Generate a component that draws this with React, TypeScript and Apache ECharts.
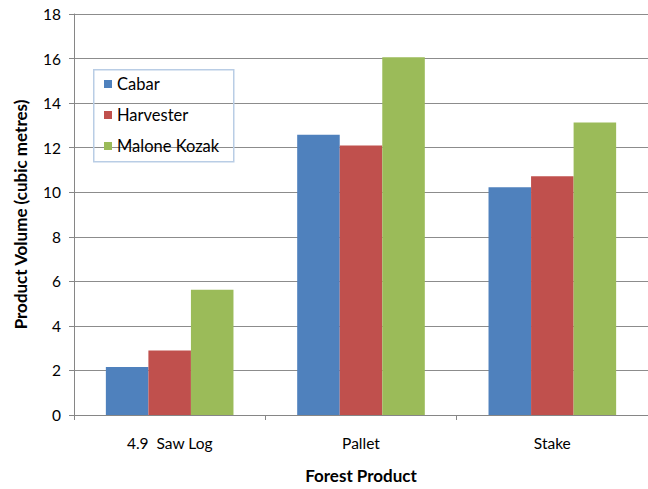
import React, { useEffect, useRef } from "react";
import * as echarts from "echarts";

const categories = ["4.9  Saw Log", "Pallet", "Stake"];
const seriesNames = ["Cabar", "Harvester", "Malone Kozak"];
const cabar = [2.15, 12.58, 10.22];
const harvester = [2.9, 12.1, 10.72];
const maloneKozak = [5.62, 16.06, 13.13];
const colors = ["#4F81BD", "#C0504D", "#9BBB59"];
const yTicks = { min: 0, max: 18, interval: 2 };

const FONT = "Lato, 'Open Sans', sans-serif";

export default function App() {
  const ref = useRef<HTMLDivElement>(null);
  useEffect(() => {
    if (!ref.current) return;
    const chart = echarts.init(ref.current, undefined, { renderer: "svg" });
    const values = [cabar, harvester, maloneKozak];
    chart.setOption({
      animation: false,
      backgroundColor: "#ffffff",
      textStyle: { fontFamily: FONT },
      grid: { left: 74, top: 14, bottom: 70, right: -9, containLabel: false },
      legend: {
        orient: "vertical",
        left: 94,
        top: 70,
        padding: [5, 8, 6, 10],
        itemWidth: 8,
        itemHeight: 8,
        itemGap: 13,
        icon: "rect",
        data: seriesNames,
        textStyle: { fontFamily: FONT, fontSize: 16.5, color: "#000", lineHeight: 18 },
      },
      graphic: [
        {
          type: "rect",
          left: 93,
          top: 69,
          shape: { width: 140, height: 92 },
          style: { fill: "rgba(0,0,0,0)", stroke: "#B9CDE5", lineWidth: 1.5 },
          z: 10,
        },
      ],
      xAxis: {
        type: "category",
        data: categories,
        name: "Forest Product",
        nameLocation: "middle",
        nameGap: 52,
        nameTextStyle: { fontFamily: FONT, fontSize: 17, fontWeight: "bold", color: "#000" },
        axisLine: { lineStyle: { color: "#868686", width: 1 } },
        axisTick: { show: true, length: 5, lineStyle: { color: "#868686" } },
        axisLabel: { fontFamily: FONT, fontSize: 15.5, color: "#000", margin: 20 },
        splitLine: { show: false },
      },
      yAxis: {
        type: "value",
        min: yTicks.min,
        max: yTicks.max,
        interval: yTicks.interval,
        name: "Product Volume (cubic metres)",
        nameLocation: "middle",
        nameGap: 45,
        nameRotate: 90,
        nameTextStyle: { fontFamily: FONT, fontSize: 17, fontWeight: "bold", color: "#000" },
        axisLine: { show: true, lineStyle: { color: "#868686", width: 1 } },
        axisTick: { show: true, length: 5, lineStyle: { color: "#868686" } },
        axisLabel: { fontFamily: FONT, fontSize: 15.5, color: "#000", margin: 13 },
        splitLine: { show: true, lineStyle: { color: "#8C8C8C", width: 1 } },
      },
      series: seriesNames.map((name, i) => ({
        name,
        type: "bar",
        data: values[i],
        barGap: "0%",
        barCategoryGap: "33.3%",
        itemStyle: { color: colors[i] },
      })),
    });
    return () => chart.dispose();
  }, []);
  return <div ref={ref} style={{ width: 648, height: 489, position: "absolute", left: 0, top: 0 }} />;
}
